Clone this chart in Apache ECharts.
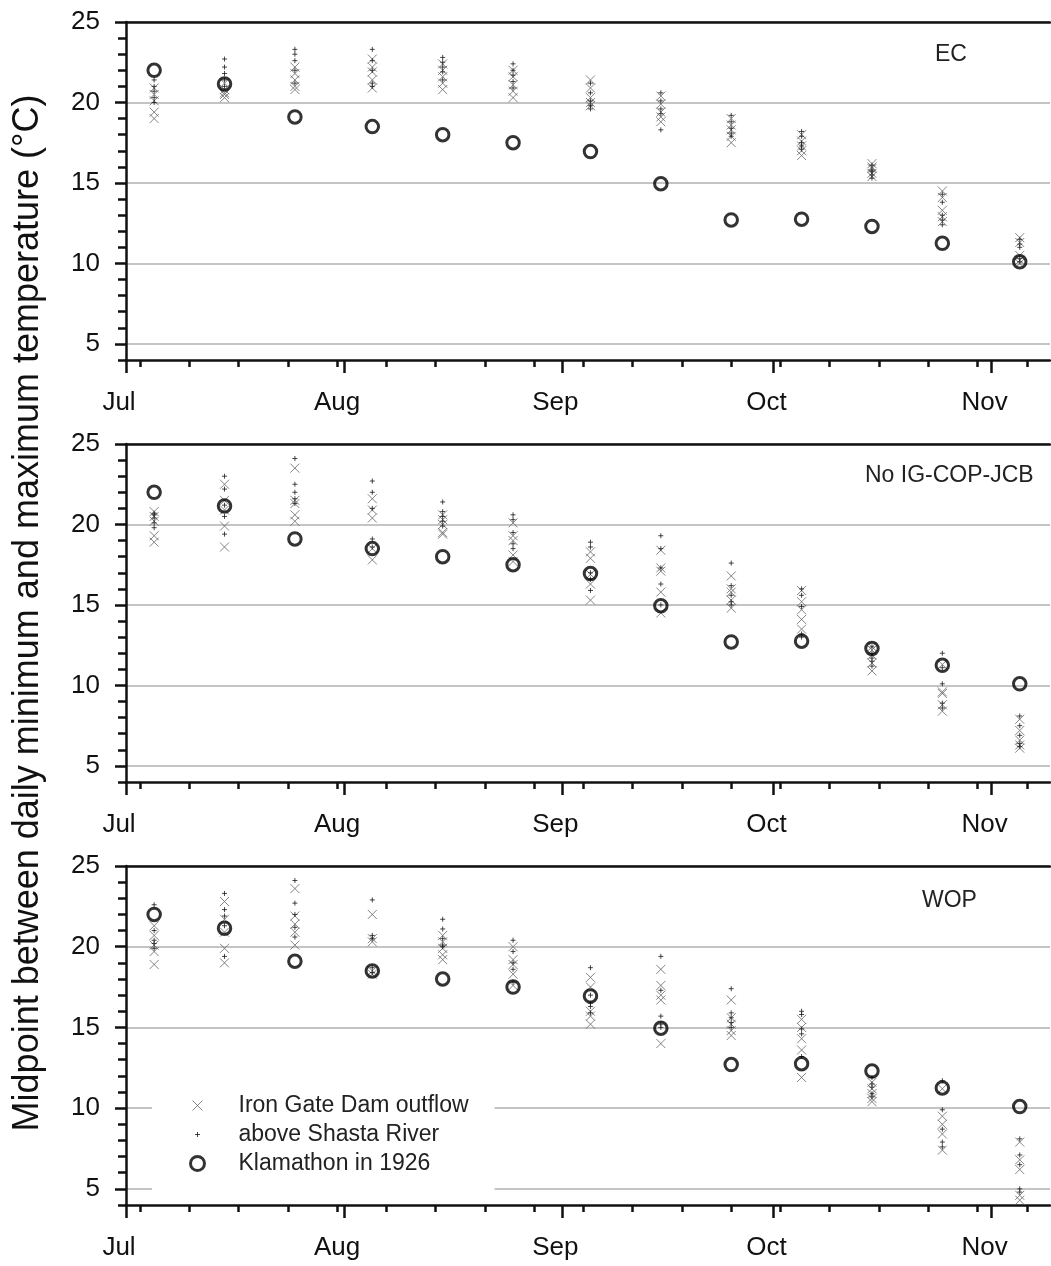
<!DOCTYPE html>
<html>
<head>
<meta charset="utf-8">
<title>Midpoint temperature - three scenarios</title>
<script src="https://cdn.jsdelivr.net/npm/echarts@6.0.0/dist/echarts.min.js"></script>
<style>
  html, body { margin: 0; padding: 0; background: #fff; }
  #chart { width: 1051px; height: 1266px; }
</style>
</head>
<body>
<div id="chart"></div>
<script>
// 10-day periods (month-day), plotted at the middle of each period
const dates = ['07-05', '07-15', '07-25', '08-05', '08-15', '08-25', '09-05', '09-15', '09-25', '10-05', '10-15', '10-25', '11-05']
const monthTicks = ['07-01', '08-01', '09-01', '10-01', '11-01']
const monthLabels = ['Jul', 'Aug', 'Sep', 'Oct', 'Nov']
const weekTicks = ['07-03', '07-10', '07-17', '07-24', '07-31', '08-07', '08-14', '08-21', '08-28',
  '09-04', '09-11', '09-18', '09-25', '10-02', '10-09', '10-16', '10-23', '10-30', '11-06']
const yTickLabels = [5, 10, 15, 20, 25]
const panelNames = ['EC', 'No IG-COP-JCB', 'WOP']
const seriesNames = ['Iron Gate Dam outflow', 'above Shasta River', 'Klamathon in 1926']

// Klamathon in 1926 (same in every panel)
const klamathon1926 = [22.0, 21.15, 19.1, 18.5, 18.0, 17.5, 16.95, 14.95, 12.7, 12.75, 12.3, 11.25, 10.1]

// EC
const ecIronGate = [
  [20.9, 20.5, 20.1, 19.4, 19.0], [21.2, 20.8, 20.5, 20.3, 20.6], [22.2, 21.8, 21.4, 21.0, 20.8],
  [22.7, 22.2, 21.9, 21.4, 20.9], [22.4, 22.0, 21.6, 21.2, 20.8], [22.0, 21.6, 21.1, 20.7, 20.3],
  [21.4, 20.9, 20.3, 20.0, 19.8], [20.4, 19.9, 19.4, 19.1, 18.8], [19.0, 18.6, 18.3, 17.9, 17.5],
  [18.0, 17.6, 17.3, 17.0, 16.7], [16.2, 15.9, 15.6, 15.4, 16.0], [14.5, 14.1, 13.3, 12.9, 12.6],
  [11.6, 11.3, 10.5, 10.2, 10.0]
]
const ecShasta = [
  [21.4, 21.0, 20.7, 20.3, 20.0], [22.7, 22.2, 21.8, 21.4, 21.0], [23.3, 23.0, 22.6, 22.0, 21.2],
  [23.3, 22.6, 22.0, 21.2, 21.0], [22.8, 22.5, 22.2, 21.9, 21.4], [22.4, 22.0, 21.7, 21.3, 20.9],
  [21.2, 20.6, 20.1, 19.8, 19.6], [20.6, 20.1, 19.6, 19.3, 18.3], [19.2, 18.8, 18.4, 18.1, 17.9],
  [18.2, 17.9, 17.5, 17.1, 17.3], [16.1, 15.8, 15.5, 15.3, 15.7], [14.3, 13.8, 13.0, 12.7, 12.4],
  [11.5, 11.0, 10.3, 10.1, 11.2]
]

// No IG-COP-JCB
const noIgIronGate = [
  [20.8, 20.5, 20.2, 19.3, 18.9], [22.5, 21.5, 20.9, 19.9, 18.6], [23.5, 21.5, 21.3, 20.6, 20.2],
  [21.6, 20.9, 20.4, 18.5, 17.8], [20.6, 20.3, 20.0, 19.5, 19.4], [20.1, 19.3, 19.0, 18.1, 17.7],
  [18.3, 17.9, 16.9, 16.3, 15.3], [18.4, 17.3, 17.1, 15.8, 14.5], [16.8, 16.0, 15.8, 15.3, 14.8],
  [15.9, 15.2, 14.7, 14.1, 13.5], [12.2, 11.9, 11.4, 10.9, 12.4], [11.3, 9.6, 9.5, 8.8, 8.4],
  [7.9, 7.2, 6.6, 6.3, 6.1]
]
const noIgShasta = [
  [20.7, 20.4, 20.1, 19.8, 20.6], [23.0, 22.2, 21.2, 19.4, 20.5], [24.1, 22.5, 22.0, 21.6, 21.3],
  [22.7, 22.0, 21.0, 19.1, 18.6], [21.4, 20.8, 20.5, 20.2, 19.9], [20.6, 20.3, 19.5, 18.5, 18.8],
  [18.9, 18.6, 17.0, 16.6, 15.9], [19.3, 18.5, 17.3, 16.3, 15.0], [17.6, 16.2, 15.6, 15.2, 15.0],
  [16.0, 15.6, 14.9, 13.2, 13.0], [12.4, 12.0, 11.7, 11.2, 11.5], [12.0, 11.1, 10.1, 8.6, 8.9],
  [8.1, 7.5, 6.9, 6.4, 6.2]
]

// WOP
const wopIronGate = [
  [21.3, 20.7, 20.1, 19.7, 18.9], [22.8, 21.7, 20.9, 19.9, 19.0], [23.6, 21.9, 21.4, 20.9, 20.1],
  [22.0, 20.5, 20.3, 18.5, 18.3], [20.7, 20.3, 19.9, 19.5, 19.2], [20.0, 19.2, 18.9, 18.3, 17.6],
  [18.1, 17.5, 16.0, 15.7, 15.2], [18.6, 17.6, 17.0, 16.7, 14.0], [16.7, 15.6, 15.2, 14.8, 14.5],
  [15.5, 15.0, 14.3, 13.6, 11.9], [11.6, 11.2, 10.9, 10.6, 10.4], [11.2, 9.5, 9.0, 8.4, 7.4],
  [7.9, 6.8, 6.2, 4.6, 4.3]
]
const wopShasta = [
  [22.6, 21.0, 20.4, 20.2, 19.9], [23.3, 22.3, 21.9, 21.3, 19.4], [24.1, 22.7, 22.0, 21.2, 20.6],
  [22.9, 20.7, 20.5, 18.7, 18.4], [21.7, 21.1, 20.5, 20.1, 20.0], [20.4, 19.7, 19.0, 18.6, 17.8],
  [18.7, 17.0, 16.5, 16.3, 15.9], [19.4, 17.3, 15.7, 15.0, 15.2], [17.4, 15.9, 15.6, 15.3, 15.0],
  [16.0, 15.8, 14.9, 14.6, 13.2], [11.9, 11.5, 11.3, 10.9, 10.7], [11.7, 9.9, 8.7, 7.9, 7.6],
  [8.1, 7.1, 6.5, 5.0, 4.8]
]

const ironGate = [ecIronGate, noIgIronGate, wopIronGate]
const shasta = [ecShasta, noIgShasta, wopShasta]

// days since Jul 1
function dayOf(md) {
  const [m, d] = md.split('-').map(Number)
  return (Date.UTC(2001, m - 1, d) - Date.UTC(2001, 6, 1)) / 86400000
}
const dateDays = dates.map(dayOf)
const monthDays = monthTicks.map(dayOf)
const weekDays = weekTicks.map(dayOf)

function toPoints(groups) {
  const out = []
  groups.forEach((vals, i) => vals.forEach(v => out.push([dateDays[i], v])))
  return out
}

const font = 'Liberation Sans, Arial, sans-serif'
const black = '#111'
const xMax = 131.3
const crossPath = 'path://M0,0L10,10M10,0L0,10'
const plusPath = 'path://M5,0L5,10M0,5L10,5'
const crossStyle = { color: 'transparent', borderColor: '#666', borderWidth: 1 }
const plusStyle = { color: 'transparent', borderColor: '#1a1a1a', borderWidth: 1 }
const circleStyle = { color: 'transparent', borderColor: '#000', borderWidth: 3 }

const gridTops = [22, 444, 866]
const gridHeights = [338, 338, 339]
const labelPos = [[935, 43], [865, 464], [922, 889]]

const grid = [], xAxis = [], yAxis = [], series = [], title = []

for (let p = 0; p < 3; p++) {
  grid.push({ left: 126, right: 1, top: gridTops[p], height: gridHeights[p], outerBoundsMode: 'none' })

  // month ticks + labels
  xAxis.push({
    gridIndex: p, type: 'value', min: 0, max: xMax, position: 'bottom',
    axisLine: { onZero: false, lineStyle: { color: black, width: 2.5 } },
    axisTick: { customValues: monthDays, length: 13, lineStyle: { color: black, width: 2.5 } },
    axisLabel: {
      customValues: monthDays,
      formatter: v => monthLabels[monthDays.indexOf(v)] || '',
      fontSize: 26, color: '#111', margin: 30, padding: [0, 14, 0, 0]
    },
    splitLine: { show: false }
  })
  // weekly ticks
  xAxis.push({
    gridIndex: p, type: 'value', min: 0, max: xMax, position: 'bottom',
    axisLine: { show: false, onZero: false },
    axisTick: { customValues: weekDays, length: 7, lineStyle: { color: black, width: 2.5 } },
    axisLabel: { show: false },
    splitLine: { show: false }
  })
  // top frame line
  xAxis.push({
    gridIndex: p, type: 'value', min: 0, max: xMax, position: 'top',
    axisLine: { onZero: false, lineStyle: { color: black, width: 2.5 } },
    axisTick: { show: false }, axisLabel: { show: false }, splitLine: { show: false }
  })

  // minor ticks every 1 degree
  yAxis.push({
    gridIndex: p, type: 'value', min: 4, max: 25, interval: 1, position: 'left',
    axisLine: { show: true, onZero: false, lineStyle: { color: black, width: 2.5 } },
    axisTick: { show: true, length: 8, lineStyle: { color: black, width: 2.5 } },
    axisLabel: { show: false },
    splitLine: { show: false }
  })
  // labels, major ticks, grid lines
  const yMain = {
    gridIndex: p, type: 'value', min: 4, max: 25, position: 'left',
    axisLine: { show: false },
    axisTick: { show: true, customValues: yTickLabels, length: 11, lineStyle: { color: black, width: 2.5 } },
    axisLabel: { customValues: yTickLabels, fontSize: 26, color: '#111', margin: 26 },
    splitLine: { show: true, lineStyle: { color: '#c4c4c4', width: 2 } }
  }
  if (p === 1) {
    yMain.name = 'Midpoint between daily minimum and maximum temperature (°C)'
    yMain.nameLocation = 'middle'
    yMain.nameRotate = 90
    yMain.nameGap = 80
    yMain.nameTextStyle = { fontSize: 36, color: '#111' }
  }
  yAxis.push(yMain)

  series.push({
    type: 'scatter', name: seriesNames[0], xAxisIndex: 3 * p, yAxisIndex: 2 * p + 1,
    data: toPoints(ironGate[p]), symbol: crossPath, symbolSize: 9,
    itemStyle: crossStyle, z: 3, silent: true
  })
  series.push({
    type: 'scatter', name: seriesNames[1], xAxisIndex: 3 * p, yAxisIndex: 2 * p + 1,
    data: toPoints(shasta[p]), symbol: plusPath, symbolSize: 5,
    itemStyle: plusStyle, z: 4, silent: true
  })
  series.push({
    type: 'scatter', name: seriesNames[2], xAxisIndex: 3 * p, yAxisIndex: 2 * p + 1,
    data: klamathon1926.map((v, i) => [dateDays[i], v]), symbol: 'circle', symbolSize: 12.5,
    itemStyle: circleStyle, z: 5, silent: true
  })

  title.push({
    text: panelNames[p], left: labelPos[p][0], top: labelPos[p][1], padding: 0,
    textStyle: { fontSize: 23, fontWeight: 'normal', color: '#222', fontFamily: font }
  })
}

const myChart = echarts.init(document.getElementById('chart'))
const option = {
  animation: false,
  backgroundColor: '#fff',
  textStyle: { fontFamily: font },
  title,
  grid,
  xAxis,
  yAxis,
  legend: {
    orient: 'vertical', left: 152, top: 1088, padding: [6, 26, 20, 37],
    backgroundColor: '#fff', itemWidth: 72, itemHeight: 14, itemGap: 6, z: 10,
    selectedMode: false,
    textStyle: { fontSize: 23, color: '#222' },
    data: [
      { name: seriesNames[0], icon: 'path://M0,0M14,14M2,2L12,12M12,2L2,12', itemStyle: crossStyle },
      { name: seriesNames[1], icon: 'path://M0,0M14,14M7,4.5L7,9.5M4.5,7L9.5,7', itemStyle: plusStyle },
      { name: seriesNames[2], icon: 'circle', itemStyle: circleStyle }
    ]
  },
  series
}
myChart.setOption(option)
</script>
</body>
</html>
